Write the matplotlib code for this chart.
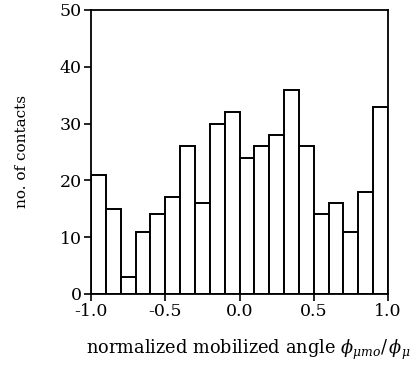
import matplotlib
matplotlib.use("Agg")
import matplotlib.pyplot as plt
import numpy as np

# histogram of normalized mobilized angle, 20 bins over [-1, 1]
bin_edges = np.linspace(-1.0, 1.0, 21)
counts = [21, 15, 3, 11, 14, 17, 26, 16, 30, 32,
          24, 26, 28, 36, 26, 14, 16, 11, 18, 33]
xticks = [-1.0, -0.5, 0.0, 0.5, 1.0]
yticks = [0, 10, 20, 30, 40, 50]

plt.rcParams['font.family'] = ['DejaVu Serif']
plt.rcParams['mathtext.fontset'] = 'dejavuserif'

fig = plt.figure(figsize=(4.12, 3.71), dpi=100)
ax = fig.add_axes([91/412, 1 - 294/371, (388-91)/412, (294-10)/371])

ax.bar(bin_edges[:-1], counts, width=np.diff(bin_edges), align='edge',
       color='white', edgecolor='black', linewidth=1.4)

ax.set_xlim(-1.0, 1.0)
ax.set_ylim(0, 50)
ax.set_xticks(xticks)
ax.set_xticklabels(['%.1f' % t for t in xticks])
ax.set_yticks(yticks)
ax.tick_params(direction='out', length=5, width=1.2, labelsize=12.5, pad=1.5)
for s in ax.spines.values():
    s.set_linewidth(1.3)

ax.set_ylabel('no. of contacts', fontsize=11, labelpad=22)
ax.set_xlabel(r'normalized mobilized angle $\phi_{\mu mo}/\,\phi_\mu$', fontsize=12.8)
ax.xaxis.set_label_coords(0.53, -0.155)

fig.savefig('out.png', dpi=100)
